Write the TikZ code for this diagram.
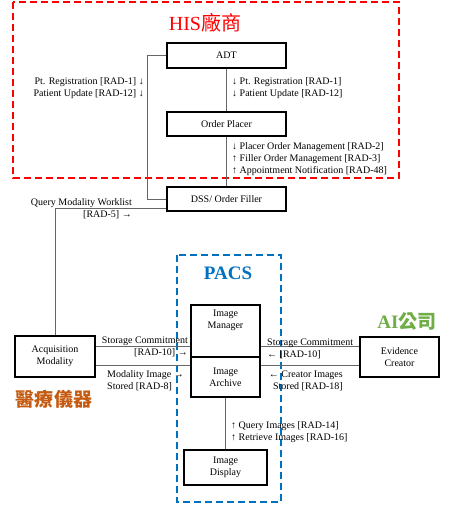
\documentclass[tikz,border=0pt]{standalone}
\usepackage{fontspec}
\setmainfont{Liberation Serif}
\newfontfamily\cjk{Noto Sans CJK TC}
\definecolor{hisred}{HTML}{FF0000}
\definecolor{pacsblue}{HTML}{0070C0}
\definecolor{aigreen}{HTML}{70AD47}
\definecolor{devorange}{HTML}{C55A11}
\definecolor{wire}{HTML}{666666}
\tikzset{
  box/.style={draw, line width=1.4pt, align=center, inner sep=2pt, font=\fontsize{10}{12}\selectfont},
  msg/.style={inner sep=1pt, font=\fontsize{10}{12}\selectfont},
  wire/.style={draw=wire, line width=1pt},
  group/.style={line width=2.2pt, dash pattern=on 7pt off 4pt}
}
\begin{document}
\begin{tikzpicture}[x=1pt,y=-1pt]
                \useasboundingbox (0,0) rectangle (459,505);
                \draw [group, hisred] (13,2) rectangle (399,178);
                \draw [group, pacsblue] (177,255) rectangle (281,502);
                \node [hisred] (his) at (205,23) {\fontsize{20}{22}\selectfont HIS\cjk 廠商};
                \node [pacsblue] (pacs) at (228,273) {\fontsize{19}{21}\selectfont\bfseries PACS};
                \node [aigreen] (ai) at (407,322) {\fontsize{19}{21}\selectfont\bfseries AI\cjk 公司};
                \node [devorange] (dev) at (54,399) {\fontsize{19}{21}\selectfont\cjk\bfseries 醫療儀器};
                \node [box, minimum width=119pt, minimum height=25pt] (adt) at (226.5,55.5) {ADT};
                \node [box, minimum width=119pt, minimum height=24pt] (placer) at (226.5,124) {Order Placer};
                \node [box, minimum width=119pt, minimum height=24pt] (dss) at (226.5,199) {DSS/ Order Filler};
                \node [box, minimum width=80pt, minimum height=41pt] (acq) at (55,356.5) {Acquisition\\Modality};
                \node [box, minimum width=69pt, minimum height=52pt] (mgr) at (225.5,331) {};
                \node [msg, below, align=center] (mgrtext) at ([yshift=-4pt]mgr.north) {Image\\Manager};
                \node [box, minimum width=69pt, minimum height=40pt] (arch) at (225.5,377) {Image\\Archive};
                \node [box, minimum width=83pt, minimum height=35pt] (disp) at (225.5,467.5) {Image\\Display};
                \node [box, minimum width=79pt, minimum height=40pt] (evid) at (399.5,357) {Evidence\\Creator};
                \coordinate (sc) at (0,346);
                \coordinate (ms) at (0,365);
                \draw [wire] (adt.west) -- ++(-19,0) |- (dss.west);
                \draw [wire] (adt.south) -- (placer.north);
                \draw [wire] (placer.south) -- (dss.north);
                \draw [wire] ([yshift=-9pt]dss.west) -| (acq.north);
                \draw [wire] (acq.east |- sc) -- (mgr.west |- sc);
                \draw [wire] (acq.east |- ms) -- (arch.west |- ms);
                \draw [wire] (evid.west |- sc) -- (mgr.east |- sc);
                \draw [wire] (evid.west |- ms) -- (arch.east |- ms);
                \draw [wire] (arch.south) -- (disp.north);
                \node [msg, anchor=east, align=right] (ptleft) at (145,88) {Pt. Registration [RAD-1] ↓\\Patient Update [RAD-12] ↓};
                \node [msg, anchor=west, align=left] (ptright) at (231,88) {↓ Pt. Registration [RAD-1]\\↓ Patient Update [RAD-12]};
                \node [msg, anchor=west, align=left] (order) at (231,159) {↓ Placer Order Management [RAD-2]\\↑ Filler Order Management [RAD-3]\\↑ Appointment Notification [RAD-48]};
                \node [msg, anchor=east, align=right] (qmw) at (133,209) {Query Modality Worklist\\{}[RAD-5] →};
                \node [msg, anchor=east, align=right] (scleft) at (189,347) {Storage Commitment\\{}[RAD-10] →};
                \node [msg, anchor=west, align=left] (mis) at (106,381) {Modality Image →\\Stored [RAD-8]};
                \node [msg, anchor=west, align=left] (scright) at (266,349) {Storage Commitment\\← [RAD-10]};
                \node [msg, anchor=east, align=right] (cis) at (344,381) {← Creator Images\\Stored [RAD-18]};
                \node [msg, anchor=west, align=left] (qri) at (230,432) {↑ Query Images [RAD-14]\\↑ Retrieve Images [RAD-16]};
            \end{tikzpicture}
\end{document}
